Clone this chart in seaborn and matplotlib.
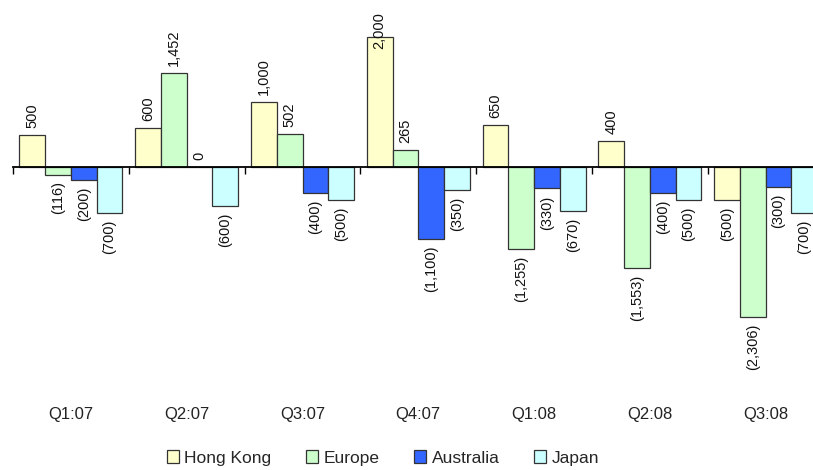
import numpy as np
import pandas as pd
import matplotlib.pyplot as plt
import seaborn as sns

# Data
quarters = ["Q1:07", "Q2:07", "Q3:07", "Q4:07", "Q1:08", "Q2:08", "Q3:08"]
regions = ["Hong Kong", "Europe", "Australia", "Japan"]
hong_kong = [500, 600, 1000, 2000, 650, 400, -500]
europe = [-116, 1452, 502, 265, -1255, -1553, -2306]
australia = [-200, 0, -400, -1100, -330, -400, -300]
japan = [-700, -600, -500, -350, -670, -500, -700]
colors = ["#FFFFCC", "#CCFFCC", "#3366FF", "#CCFFFF"]

df = pd.DataFrame({
    "quarter": quarters * 4,
    "region": np.repeat(regions, len(quarters)),
    "value": hong_kong + europe + australia + japan,
})

sns.set_style("white")
plt.rcParams["font.family"] = ["Liberation Sans", "DejaVu Sans"]

fig = plt.figure(figsize=(8.13, 4.70), dpi=100)
ax = fig.add_axes([13 / 813, 1 - 400 / 470, 800 / 813, 380 / 470])

sns.barplot(
    data=df, x="quarter", y="value", hue="region",
    order=quarters, hue_order=regions, palette=colors,
    saturation=1, width=0.89, errorbar=None,
    edgecolor="#333333", linewidth=0.9, ax=ax,
)

# value labels
def fmt(v):
    return f"{v:,.0f}" if v >= 0 else f"({-v:,.0f})"

labels_txt = []
for cont in ax.containers:
    labels_txt += ax.bar_label(cont, fmt=fmt, rotation=90, padding=5,
                               fontsize=10.5, color="#111111")

for s in ["top", "right", "left"]:
    ax.spines[s].set_visible(False)
ax.spines["bottom"].set_position(("data", 0))
ax.spines["bottom"].set_color("black")
ax.spines["bottom"].set_linewidth(1.3)
ax.set_yticks([])
ax.set_xticks(np.arange(-0.5, 7, 1))
ax.set_xticklabels([])
ax.tick_params(axis="x", length=5, width=1, color="black", direction="out", bottom=True)
ax.set_xlabel("")
ax.set_ylabel("")
ax.set_xlim(-0.5, -0.5 + 800 / 115.8)
ax.set_ylim(-(400 - 167) / 0.065, (167 - 20) / 0.065)

# category labels
for i, q in enumerate(quarters):
    ax.text(i, -15 / 380, q, transform=ax.get_xaxis_transform(),
            ha="center", va="center", fontsize=12, color="#222222")

handles, labels = ax.get_legend_handles_labels()
ax.legend_.remove()
fig.legend(handles, labels, loc="center", bbox_to_anchor=(383 / 813, 1 - 458 / 470),
           ncol=4, frameon=False, fontsize=12.5, handlelength=0.7, handleheight=0.7,
           handletextpad=0.3, columnspacing=2.0)

# keep labels inside the picture (shift down like the original)
fig.canvas.draw()
r = fig.canvas.get_renderer()
for t in labels_txt:
    bb = t.get_window_extent(r)
    top_px = fig.bbox.height - bb.y1
    if top_px < 12:
        dx, dy = t.xyann
        t.xyann = (dx, dy - (12 - top_px) * 72 / fig.dpi)

plt.savefig("out.png", dpi=100)
